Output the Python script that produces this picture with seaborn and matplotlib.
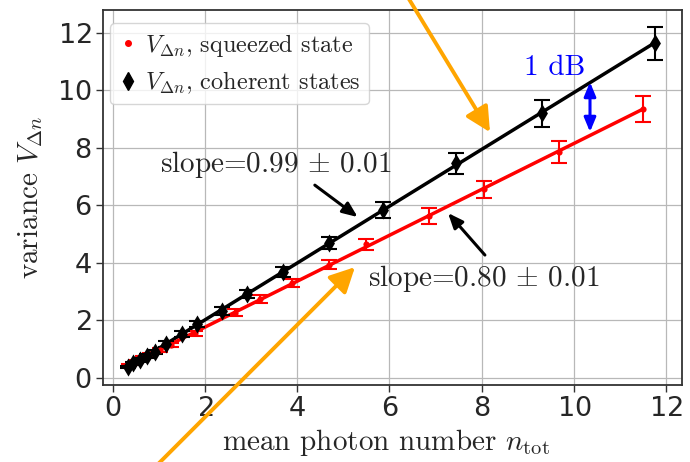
import numpy as np
import pandas as pd
import matplotlib
matplotlib.use("Agg")
import matplotlib.pyplot as plt
import seaborn as sns
from matplotlib.lines import Line2D

# ---- data ----
coh_n = [0.33, 0.44, 0.59, 0.73, 0.91, 1.16, 1.49, 1.83, 2.36, 2.90, 3.69, 4.69, 5.86, 7.44, 9.30, 11.76]
coh_v = [0.38, 0.51, 0.63, 0.76, 0.90, 1.18, 1.53, 1.88, 2.33, 2.92, 3.68, 4.69, 5.83, 7.46, 9.20, 11.63]
coh_err = [0.05, 0.05, 0.06, 0.07, 0.08, 0.09, 0.10, 0.11, 0.13, 0.15, 0.17, 0.20, 0.28, 0.36, 0.47, 0.58]

sq_n = [0.35, 0.50, 0.65, 0.80, 1.02, 1.25, 1.78, 2.65, 3.19, 3.88, 4.69, 5.50, 6.86, 8.05, 9.67, 11.50]
sq_v = [0.45, 0.57, 0.70, 0.82, 0.97, 1.15, 1.55, 2.27, 2.74, 3.30, 3.94, 4.64, 5.62, 6.55, 7.85, 9.36]
sq_err = [0.04, 0.05, 0.05, 0.06, 0.07, 0.08, 0.09, 0.11, 0.13, 0.15, 0.17, 0.20, 0.28, 0.30, 0.38, 0.45]

legend_labels = [r"$V_{\Delta n}$, squeezed state", r"$V_{\Delta n}$, coherent states"]
slope_labels = [r"slope=0.99 $\pm$ 0.01", r"slope=0.80 $\pm$ 0.01"]
xticks = [0, 2, 4, 6, 8, 10, 12]
yticks = [0, 2, 4, 6, 8, 10, 12]

coh = pd.DataFrame({"n": coh_n, "v": coh_v, "e": coh_err})
sq = pd.DataFrame({"n": sq_n, "v": sq_v, "e": sq_err})

sns.set_style("ticks", {"axes.grid": True})
plt.rcParams["mathtext.fontset"] = "cm"
plt.rcParams["axes.formatter.use_mathtext"] = True

fig = plt.figure(figsize=(6.9, 4.62), dpi=100)
ax = fig.add_axes([0.149, 0.167, 0.839, 0.811])

ax.grid(True, color="#b8b8b8", linewidth=0.9)
ax.set_axisbelow(True)

# fit lines
sns.regplot(data=coh, x="n", y="v", scatter=False, ci=None, ax=ax,
            line_kws=dict(color="black", lw=2.5, zorder=2))
sns.regplot(data=sq, x="n", y="v", scatter=False, ci=None, ax=ax,
            line_kws=dict(color="red", lw=2.5, zorder=2))

# error bars
ax.errorbar(sq["n"], sq["v"], yerr=sq["e"], fmt="none", ecolor="red",
            elinewidth=1.5, capsize=5.5, capthick=1.5, zorder=3)
ax.errorbar(coh["n"], coh["v"], yerr=coh["e"], fmt="none", ecolor="black",
            elinewidth=1.5, capsize=5.5, capthick=1.5, zorder=3)

# markers
sns.scatterplot(data=sq, x="n", y="v", marker="o", color="red", s=20,
                edgecolor="red", linewidth=0, ax=ax, zorder=4, legend=False)
sns.scatterplot(data=coh, x="n", y="v", marker="d", color="black", s=85,
                edgecolor="black", linewidth=0, ax=ax, zorder=4, legend=False)

ax.set_xlim(-0.22, 12.34)
ax.set_ylim(-0.24, 12.78)
ax.set_xticks(xticks)
ax.set_yticks(yticks)
ax.tick_params(axis="both", labelsize=19.5, length=5, width=1, color="#333333", pad=3)
for lab in ax.get_xticklabels() + ax.get_yticklabels():
    lab.set_fontfamily("DejaVu Sans")
for sp in ax.spines.values():
    sp.set_visible(True)
    sp.set_color("#333333")
    sp.set_linewidth(1.3)

ax.set_xlabel(r"mean photon number $n_{\rm tot}$", fontfamily="cmr10", fontsize=21)
ax.set_ylabel(r"variance $V_{\Delta n}$", fontfamily="cmr10", fontsize=21)
ax.xaxis.set_label_coords(0.49, -0.112)
ax.yaxis.set_label_coords(-0.10, 0.5)

handles = [Line2D([], [], marker="o", color="red", ls="none", markersize=4),
           Line2D([], [], marker="d", color="black", ls="none", markersize=9)]
leg = ax.legend(handles, legend_labels, loc="upper left", prop={"family": "cmr10", "size": 17.5},
                frameon=True, fancybox=True, framealpha=0.8, edgecolor="#cccccc",
                borderpad=0.35, handletextpad=0.3, handlelength=0.8, labelspacing=0.45,
                borderaxespad=0.3, bbox_to_anchor=(0.0, 0.985))

# slope annotations
ax.text(1.02, 7.4, slope_labels[0], fontfamily="cmr10", fontsize=21, va="center", ha="left")
ax.annotate("", xy=(5.31, 5.59), xytext=(4.38, 6.70),
            arrowprops=dict(arrowstyle="-|>,head_length=0.6,head_width=0.25", color="black",
                            lw=2.2, mutation_scale=15, shrinkA=0, shrinkB=0))
ax.text(5.53, 3.47, slope_labels[1], fontfamily="cmr10", fontsize=21, va="center", ha="left")
ax.annotate("", xy=(7.27, 5.73), xytext=(8.07, 4.27),
            arrowprops=dict(arrowstyle="-|>,head_length=0.6,head_width=0.25", color="black",
                            lw=2.2, mutation_scale=15, shrinkA=0, shrinkB=0))

# 1 dB marker
ax.annotate("", xy=(10.35, 10.28), xytext=(10.35, 8.55),
            arrowprops=dict(arrowstyle="<|-|>,head_length=0.6,head_width=0.25", color="blue",
                            lw=2.2, mutation_scale=14, shrinkA=0, shrinkB=0))
ax.text(9.59, 10.76, "1 dB", color="blue", fontfamily="cmr10", fontsize=21,
        ha="center", va="center")

# orange arrows
ax.annotate("", xy=(8.18, 8.54), xytext=(6.09, 14.04), annotation_clip=False,
            arrowprops=dict(arrowstyle="-|>,head_length=0.75,head_width=0.38", color="orange",
                            lw=2.8, mutation_scale=20, shrinkA=0, shrinkB=0))
ax.annotate("", xy=(5.25, 3.85), xytext=(0.60, -3.6), annotation_clip=False,
            arrowprops=dict(arrowstyle="-|>,head_length=0.75,head_width=0.38", color="orange",
                            lw=2.8, mutation_scale=20, shrinkA=0, shrinkB=0))

fig.savefig("out.png", dpi=100)
